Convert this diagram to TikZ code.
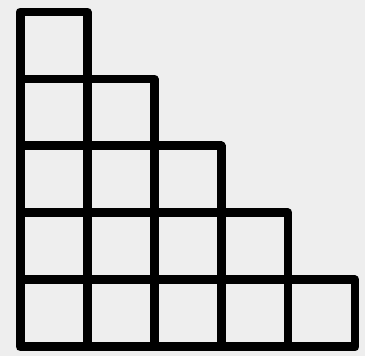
\documentclass[tikz,border=0pt]{standalone}
\begin{document}
\begin{tikzpicture}[cell/.style={draw=black,line width=3.8pt,line join=round}]
        % paper
        \fill[gray!13] (-0.299,-0.134) rectangle (5.149,5.179);
        \useasboundingbox (-0.299,-0.134) rectangle (5.149,5.179);

        % staircase of squares, row r holds 5-r cells
        \foreach \r in {0,...,4} {
            \pgfmathtruncatemacro{\last}{4-\r}
            \foreach \c in {0,...,\last} {
                \draw[cell] (\c,\r) rectangle +(1,1);
            }
        }
    \end{tikzpicture}
\end{document}
